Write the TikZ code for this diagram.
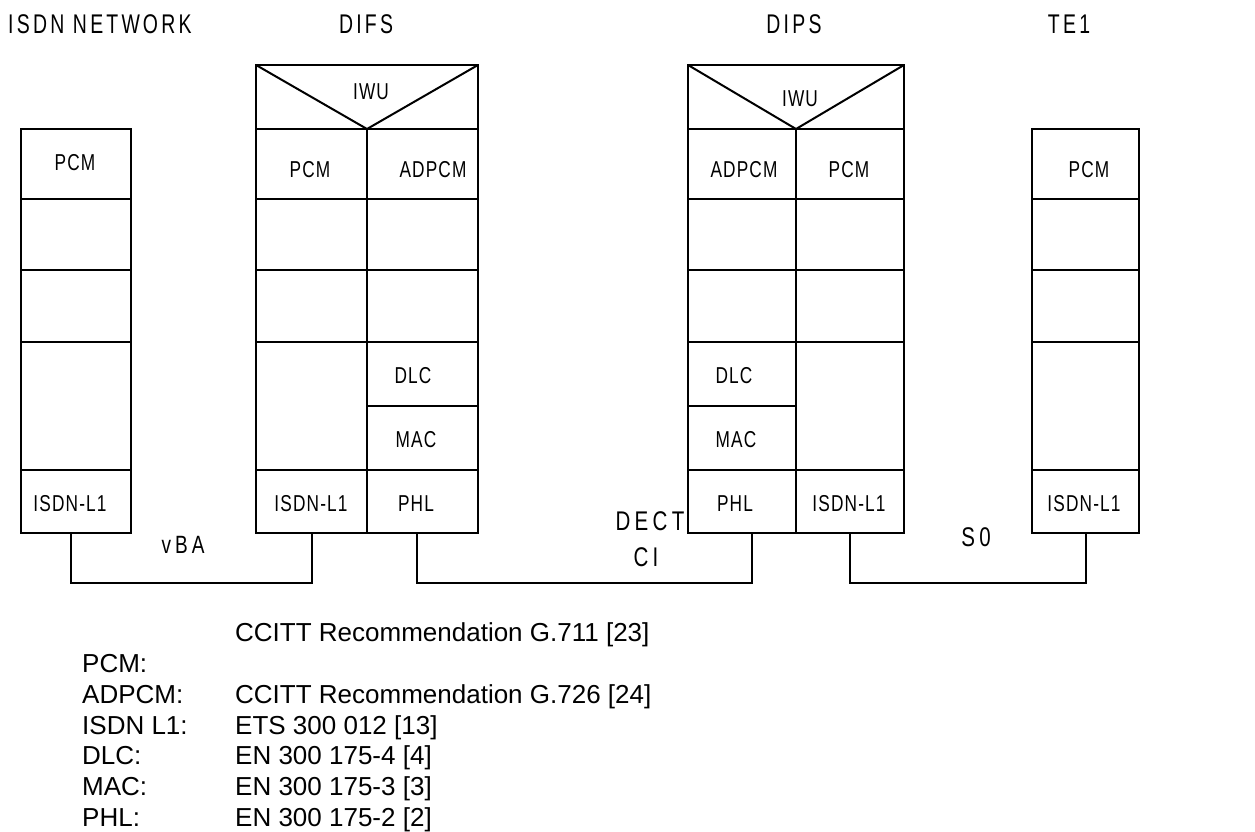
\documentclass[tikz,border=0pt]{standalone}
\usepackage{fontspec}
\setmainfont{Liberation Sans}
\newfontfamily\lblfont{Liberation Sans}[FakeStretch=0.75,LetterSpace=5]
\newfontfamily\ttlfont{Liberation Sans}[FakeStretch=0.72,LetterSpace=12]
\newfontfamily\lnkfont{Liberation Sans}[FakeStretch=0.76,LetterSpace=16]
\usetikzlibrary{calc}
\tikzset{
  cellbox/.style={draw, line width=2pt, inner sep=0pt, outer sep=0pt},
  lbl/.style={inner sep=0pt, font=\lblfont\fontsize{23}{27}\selectfont},
  ttl/.style={inner sep=0pt, font=\ttlfont\fontsize{27}{32}\selectfont},
  lnk/.style={inner sep=0pt, font=\lnkfont\fontsize{27}{32}\selectfont},
  leg/.style={inner sep=0pt, anchor=base west, font=\fontsize{26}{30}\selectfont},
  wire/.style={line width=2pt}
}
\newcommand\mkcell[5]{\node[cellbox, minimum width={#4-#2}, minimum height={#5-#3}] (#1) at ({(#2+#4)/2},{(#3+#5)/2}) {};}
\begin{document}
\begin{tikzpicture}[x=1pt,y=-1pt]
\useasboundingbox[fill=white] (0,0) rectangle (1255,832);
% ISDN network stack
\mkcell{na}{21}{129}{131}{199}
\mkcell{nb}{21}{199}{131}{270}
\mkcell{nc}{21}{270}{131}{342}
\mkcell{nd}{21}{342}{131}{470}
\mkcell{ne}{21}{470}{131}{533}
% DIFS stack
\mkcell{fiwu}{256}{65}{478}{129}
\mkcell{fa1}{256}{129}{367}{199}
\mkcell{fb1}{367}{129}{478}{199}
\mkcell{fa2}{256}{199}{367}{270}
\mkcell{fb2}{367}{199}{478}{270}
\mkcell{fa3}{256}{270}{367}{342}
\mkcell{fb3}{367}{270}{478}{342}
\mkcell{fa4}{256}{342}{367}{470}
\mkcell{fb4}{367}{342}{478}{406}
\mkcell{fb5}{367}{406}{478}{470}
\mkcell{fa6}{256}{470}{367}{533}
\mkcell{fb6}{367}{470}{478}{533}
% DIPS stack
\mkcell{piwu}{688}{65}{904}{129}
\mkcell{pa1}{688}{129}{796}{199}
\mkcell{pb1}{796}{129}{904}{199}
\mkcell{pa2}{688}{199}{796}{270}
\mkcell{pb2}{796}{199}{904}{270}
\mkcell{pa3}{688}{270}{796}{342}
\mkcell{pb3}{796}{270}{904}{342}
\mkcell{pa4}{688}{342}{796}{406}
\mkcell{pa5}{688}{406}{796}{470}
\mkcell{pb4}{796}{342}{904}{470}
\mkcell{pa6}{688}{470}{796}{533}
\mkcell{pb6}{796}{470}{904}{533}
% TE1 stack
\mkcell{ta}{1032}{129}{1139}{199}
\mkcell{tb}{1032}{199}{1139}{270}
\mkcell{tc}{1032}{270}{1139}{342}
\mkcell{td}{1032}{342}{1139}{470}
\mkcell{te}{1032}{470}{1139}{533}
% IWU wedges
\draw[wire, line join=miter] (fiwu.north west) -- (fiwu.south) -- (fiwu.north east);
\draw[wire, line join=miter] (piwu.north west) -- (piwu.south) -- (piwu.north east);
% titles
\node[ttl, anchor=west] (tnet) at (8,24) {ISDN NETW\kern3pt ORK};
\node[ttl] (tdifs) at (366,24) {DIFS};
\node[ttl] (tdips) at (794,24) {DIPS};
\node[ttl] (tte) at (1069,24) {TE1};
% cell labels
\node[lbl] (lna) at (75,163) {PCM};
\node[lbl] (lne) at (70,504) {ISDN-L1};
\node[lbl] (lfiwu) at (371,92) {IWU};
\node[lbl] (lfa1) at (310,170) {PCM};
\node[lbl] (lfb1) at (433,170) {ADPCM};
\node[lbl] (lfb4) at (413,376) {DLC};
\node[lbl] (lfb5) at (416,440) {MAC};
\node[lbl] (lfa6) at (311,504) {ISDN-L1};
\node[lbl] (lfb6) at (416,504) {PHL};
\node[lbl] (lpiwu) at (800,99) {IWU};
\node[lbl] (lpa1) at (744,170) {ADPCM};
\node[lbl] (lpb1) at (849,170) {PCM};
\node[lbl] (lpa4) at (734,376) {DLC};
\node[lbl] (lpa5) at (736,440) {MAC};
\node[lbl] (lpa6) at (735,504) {PHL};
\node[lbl] (lpb6) at (849,504) {ISDN-L1};
\node[lbl] (lta) at (1089,170) {PCM};
\node[lbl] (lte) at (1084,504) {ISDN-L1};
% links
\draw[wire] ([xshift=-5pt]ne.south) -- ++(0,50) -| (fa6.south);
\draw[wire] ([xshift=-5.5pt]fb6.south) -- ++(0,50) -| ([xshift=10pt]pa6.south);
\draw[wire] (pb6.south) -- ++(0,50) -| (te.south);
% link labels
\node[lnk, font=\lnkfont\fontsize{25}{29}\selectfont] (lvba) at (183,545) {vBA};
\node[lnk] (ldect) at (650,521) {DECT};
\node[lnk] (lci) at (646,557) {CI};
\node[lnk] (ls0) at (976,537) {S0};
% legend
\node[leg] (g1) at (235,641) {CCITT Recommendation G.711 [23]};
\node[leg] (k1) at (82,672) {PCM:};
\node[leg] (k2) at (82,703) {ADPCM:};
\node[leg] (g2) at (235,703) {CCITT Recommendation G.726 [24]};
\node[leg] (k3) at (82,734) {ISDN L1:};
\node[leg] (g3) at (235,734) {ETS 300 012 [13]};
\node[leg] (k4) at (82,764) {DLC:};
\node[leg] (g4) at (235,764) {EN 300 175-4 [4]};
\node[leg] (k5) at (82,795) {MAC:};
\node[leg] (g5) at (235,795) {EN 300 175-3 [3]};
\node[leg] (k6) at (82,826) {PHL:};
\node[leg] (g6) at (235,826) {EN 300 175-2 [2]};
\end{tikzpicture}
\end{document}
